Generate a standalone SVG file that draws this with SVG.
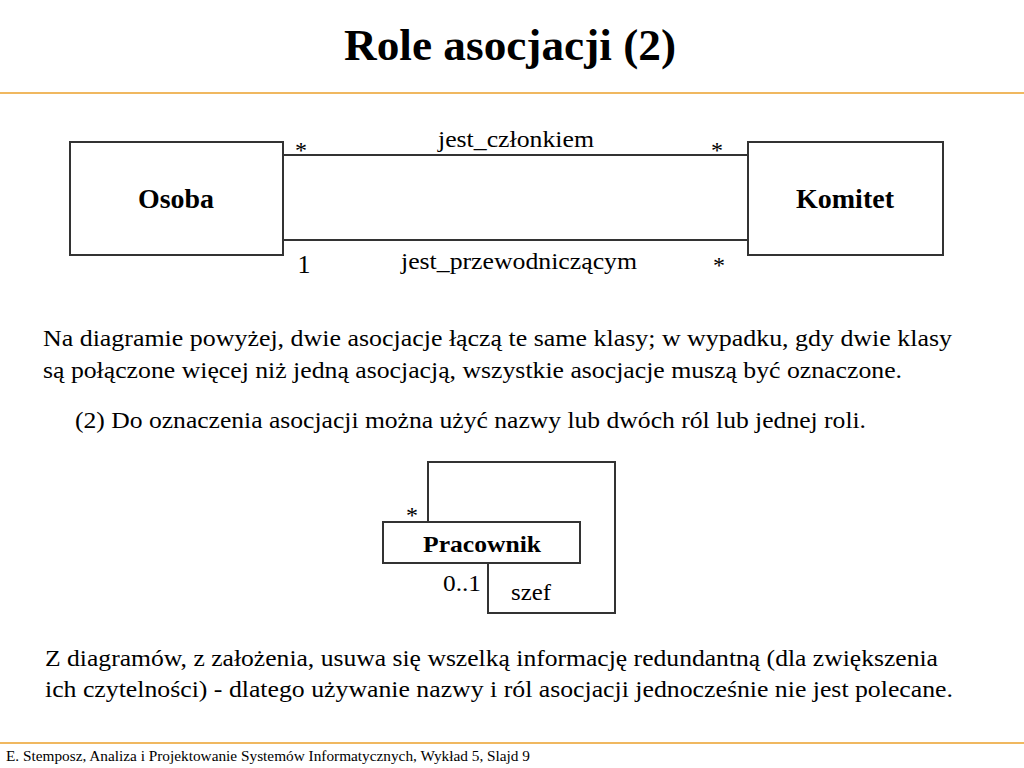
<svg xmlns="http://www.w3.org/2000/svg" width="1024" height="768" viewBox="0 0 1024 768">
<style>
text{font-family:"Liberation Serif","Times New Roman",serif;fill:#000}
.b{font-weight:bold}
.box{fill:#fff;stroke:#333;stroke-width:2}
.ln{fill:none;stroke:#333;stroke-width:2}
.rule{stroke:#f0b860;stroke-width:2}
</style>
<rect width="1024" height="768" fill="#fff"/>
<text x="510" y="60" class="b" font-size="44" text-anchor="middle" textLength="332" lengthAdjust="spacingAndGlyphs">Role asocjacji (2)</text>
<line x1="0" y1="93" x2="1024" y2="93" class="rule"/>
<g id="connectors">
<line x1="283" y1="155" x2="748" y2="155" class="ln"/>
<line x1="283" y1="240" x2="748" y2="240" class="ln"/>
<polyline points="428,522 428,462 615,462 615,613 488,613 488,563" class="ln"/>
</g>
<g id="osoba">
<rect x="70" y="142" width="213" height="113" class="box"/>
<text x="176" y="208" class="b" font-size="27" text-anchor="middle" textLength="76" lengthAdjust="spacingAndGlyphs">Osoba</text>
</g>
<g id="komitet">
<rect x="748" y="142" width="195" height="113" class="box"/>
<text x="845" y="208" class="b" font-size="27" text-anchor="middle" textLength="98" lengthAdjust="spacingAndGlyphs">Komitet</text>
</g>
<g id="pracownik">
<rect x="383" y="522" width="197" height="41" class="box"/>
<text x="482" y="552" class="b" font-size="24" text-anchor="middle" textLength="118" lengthAdjust="spacingAndGlyphs">Pracownik</text>
</g>
<g id="labels" font-size="24">
<text x="301" y="158" text-anchor="middle">*</text>
<text x="516" y="147" text-anchor="middle" textLength="156" lengthAdjust="spacingAndGlyphs">jest_członkiem</text>
<text x="717" y="158" text-anchor="middle">*</text>
<text x="304" y="273" font-size="26" text-anchor="middle">1</text>
<text x="519" y="269" text-anchor="middle" textLength="236" lengthAdjust="spacingAndGlyphs">jest_przewodniczącym</text>
<text x="719" y="273" text-anchor="middle">*</text>
<text x="412" y="523" text-anchor="middle">*</text>
<text x="443" y="591" textLength="38" lengthAdjust="spacingAndGlyphs">0..1</text>
<text x="511" y="600" textLength="40" lengthAdjust="spacingAndGlyphs">szef</text>
</g>
<g font-size="23">
<text x="43" y="346" textLength="909" lengthAdjust="spacingAndGlyphs">Na diagramie powyżej, dwie asocjacje łączą te same klasy; w  wypadku, gdy  dwie klasy</text>
<text x="43" y="378" textLength="859" lengthAdjust="spacingAndGlyphs">są połączone więcej niż jedną  asocjacją, wszystkie asocjacje muszą być oznaczone.</text>
<text x="75" y="428" textLength="791" lengthAdjust="spacingAndGlyphs">(2) Do oznaczenia asocjacji można użyć nazwy lub dwóch ról lub jednej roli.</text>
<text x="45" y="666" textLength="893" lengthAdjust="spacingAndGlyphs">Z diagramów, z założenia, usuwa się wszelką informację redundantną (dla zwiększenia</text>
<text x="45" y="697" textLength="908" lengthAdjust="spacingAndGlyphs">ich czytelności) - dlatego używanie nazwy i  ról asocjacji jednocześnie nie jest polecane.</text>
</g>
<line x1="0" y1="743" x2="1024" y2="743" class="rule"/>
<text x="6" y="761" font-size="14" textLength="524" lengthAdjust="spacingAndGlyphs">E. Stemposz, Analiza i Projektowanie Systemów Informatycznych, Wykład 5, Slajd 9</text>
</svg>
